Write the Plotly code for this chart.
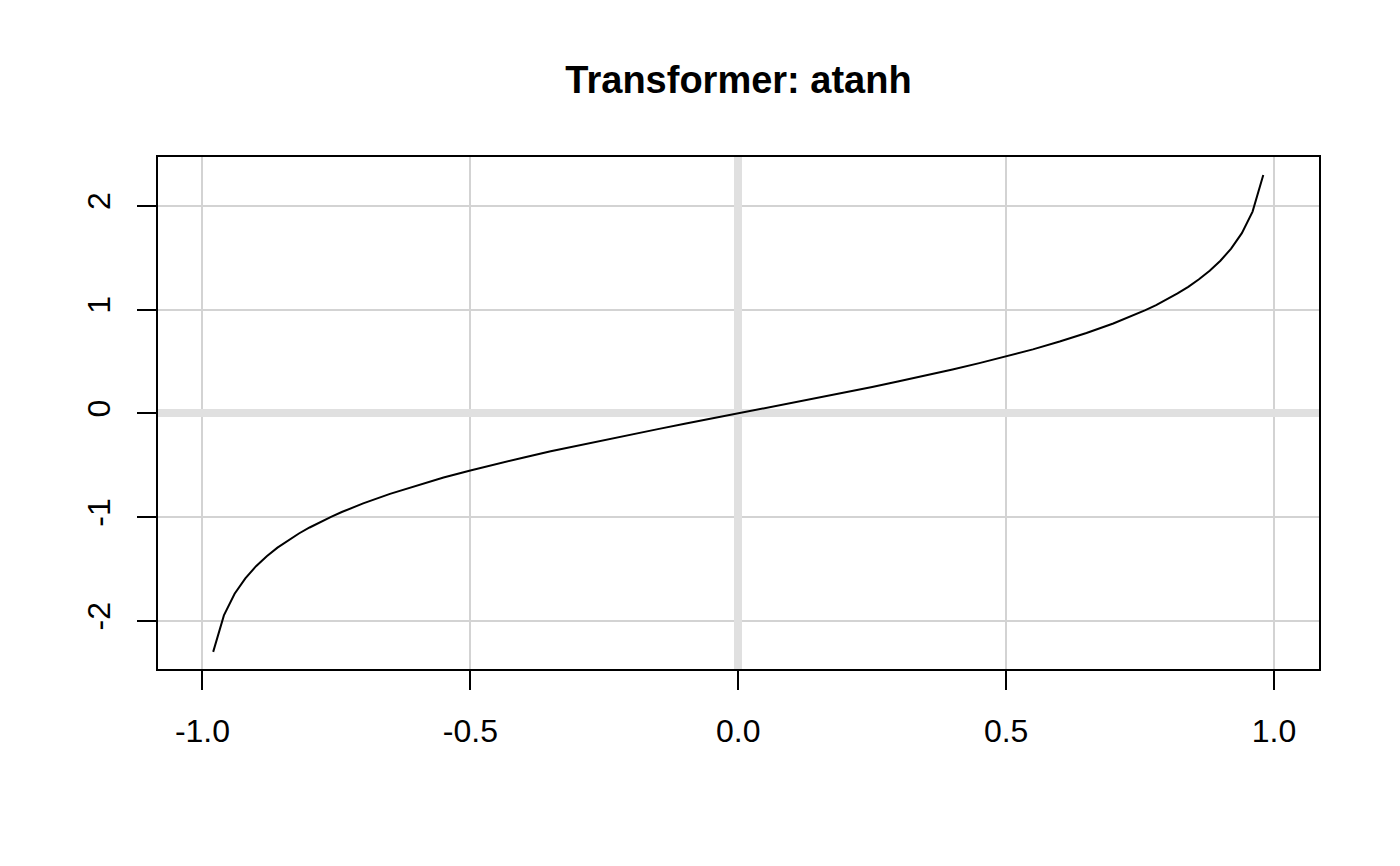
import plotly.graph_objects as go

# Data (x in [-0.98, 0.98])
x_vals = [-0.98, -0.96, -0.94, -0.92, -0.90, -0.88, -0.86, -0.84, -0.82, -0.80,
          -0.78, -0.76, -0.74, -0.72, -0.70, -0.65, -0.60, -0.55, -0.50, -0.45,
          -0.40, -0.35, -0.30, -0.25, -0.20, -0.15, -0.10, -0.05,
          0.00,
          0.05, 0.10, 0.15, 0.20, 0.25, 0.30, 0.35, 0.40,
          0.45, 0.50, 0.55, 0.60, 0.65, 0.70, 0.72, 0.74, 0.76, 0.78,
          0.80, 0.82, 0.84, 0.86, 0.88, 0.90, 0.92, 0.94, 0.96, 0.98]
y_vals = [-2.298, -1.946, -1.738, -1.589, -1.472, -1.376, -1.293, -1.221, -1.157, -1.099,
          -1.045, -0.996, -0.950, -0.908, -0.867, -0.775, -0.693, -0.618, -0.549, -0.485,
          -0.424, -0.365, -0.310, -0.255, -0.203, -0.151, -0.100, -0.050,
          0.000,
          0.050, 0.100, 0.151, 0.203, 0.255, 0.310, 0.365, 0.424,
          0.485, 0.549, 0.618, 0.693, 0.775, 0.867, 0.908, 0.950, 0.996, 1.045,
          1.099, 1.157, 1.221, 1.293, 1.376, 1.472, 1.589, 1.738, 1.946, 2.298]

x_ticks = [-1.0, -0.5, 0.0, 0.5, 1.0]
x_tick_labels = ["-1.0", "-0.5", "0.0", "0.5", "1.0"]
y_ticks = [-2, -1, 0, 1, 2]
y_tick_labels = ["-2", "-1", "0", "1", "2"]
title_text = "Transformer: atanh"

FONT = "Liberation Sans, Arial, Helvetica, sans-serif"

fig = go.Figure()
fig.add_trace(go.Scatter(x=x_vals, y=y_vals, mode="lines",
                         line=dict(color="black", width=2), showlegend=False,
                         hoverinfo="skip"))

axis_common = dict(
    showline=True, mirror=True, linecolor="black", linewidth=2,
    ticks="outside", ticklen=19, tickwidth=2, tickcolor="black",
    showgrid=True, gridcolor="#d3d3d3", gridwidth=2,
    zeroline=True, zerolinecolor="#e0e0e0", zerolinewidth=8,
    tickfont=dict(family=FONT, size=32, color="black"),
    tickmode="array",
)

fig.update_layout(
    width=1400, height=866,
    margin=dict(l=150, r=89, t=149, b=205, pad=0),
    paper_bgcolor="white", plot_bgcolor="white",
    title=dict(text=title_text, x=0.5, xref="paper", xanchor="center",
               y=1 - 72 / 866, yref="container", yanchor="middle",
               font=dict(family=FONT, size=38, color="black", weight="bold")),
    xaxis=dict(range=[-1.083, 1.084], tickvals=x_ticks, ticktext=x_tick_labels,
               ticklabelstandoff=14, **axis_common),
    yaxis=dict(range=[-2.463, 2.472], tickvals=y_ticks, ticktext=y_tick_labels,
               tickangle=-90, ticklabelstandoff=14, **axis_common),
)

fig.write_html("out.html")
